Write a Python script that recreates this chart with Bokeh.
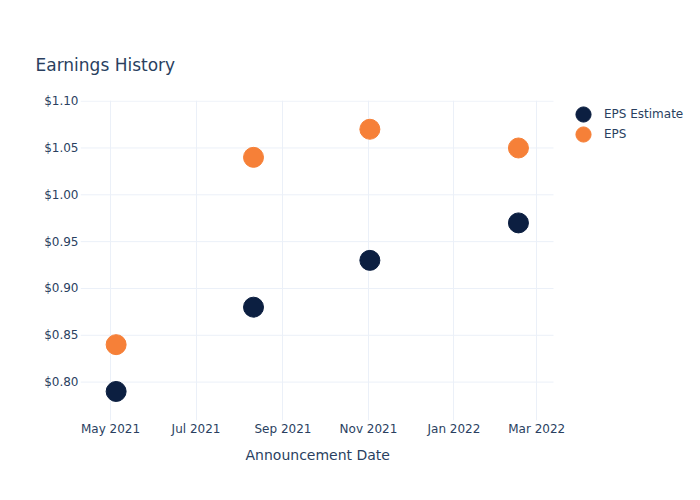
from datetime import datetime
import pandas as pd
from bokeh.plotting import figure
from bokeh.models import (ColumnDataSource, Range1d, FixedTicker, NumeralTickFormatter,
                          DatetimeTickFormatter, Legend, LegendItem, Title)
from bokeh.embed import file_html
from bokeh.resources import INLINE

# ---- data ----
dates = ["2021-05-05", "2021-08-11", "2021-11-02", "2022-02-16"]
eps_estimate = [0.79, 0.88, 0.93, 0.97]
eps_actual = [0.84, 1.04, 1.07, 1.05]
series_names = ["EPS Estimate", "EPS"]
x_tick_dates = ["2021-05-01", "2021-07-01", "2021-09-01", "2021-11-01", "2022-01-01", "2022-03-01"]
y_ticks = [0.80, 0.85, 0.90, 0.95, 1.00, 1.05, 1.10]
x_axis_title = "Announcement Date"
chart_title = "Earnings History"

TEXT = "#2a3f5f"
GRID = "#ebf0f8"
NAVY = "#0c1f41"
ORANGE = "#f68038"
FONT = "DejaVu Sans"

# visible plot area spans 473 px (x 80..553); the frame extends to the right edge (700)
x_start = datetime(2021, 4, 9, 14)
x_vis_end = datetime(2022, 3, 13)
vis_px, extra_px = 473.0, 147.0
x_end = x_vis_end + (x_vis_end - x_start) * (extra_px / vis_px)

src = ColumnDataSource(dict(date=pd.to_datetime(dates), est=eps_estimate, eps=eps_actual))

p = figure(width=700, height=500, output_backend="svg", toolbar_location=None,
           title=None, x_axis_type="datetime",
           x_range=Range1d(x_start, x_end),
           y_range=Range1d(0.759, 1.1007),
           min_border_left=80, min_border_right=0, min_border_top=100, min_border_bottom=80)
p.outline_line_color = None
p.background_fill_color = "white"
p.border_fill_color = "white"

# horizontal grid lines, limited to the visible plot area
p.segment(x0=[x_start] * len(y_ticks), x1=[x_vis_end] * len(y_ticks), y0=y_ticks, y1=y_ticks,
          line_color=GRID, line_width=1, level="underlay")

r_est = p.scatter("date", "est", source=src, size=20, color=NAVY, line_color=NAVY)
r_eps = p.scatter("date", "eps", source=src, size=20, color=ORANGE, line_color=ORANGE)

# axes
p.xaxis.ticker = FixedTicker(ticks=[pd.Timestamp(d).value / 1e6 for d in x_tick_dates])
fmt = "%b %Y"
p.xaxis.formatter = DatetimeTickFormatter(days=fmt, months=fmt, years=fmt, hours=fmt)
p.yaxis.ticker = FixedTicker(ticks=y_ticks)
p.yaxis.formatter = NumeralTickFormatter(format="$0.00")
for ax in (p.xaxis, p.yaxis):
    ax.axis_line_color = None
    ax.major_tick_line_color = None
    ax.minor_tick_line_color = None
    ax.major_tick_out = 0
    ax.major_tick_in = 0
    ax.major_label_text_font = FONT
    ax.major_label_text_font_size = "12px"
    ax.major_label_text_color = TEXT
p.yaxis.major_label_standoff = 2
p.xaxis.major_label_standoff = 1

p.xgrid.grid_line_color = GRID
p.xgrid.ticker = p.xaxis.ticker
p.ygrid.grid_line_color = None

# x-axis title, centred under the visible plot area
xt = Title(text=x_axis_title, align="left", offset=165, standoff=12,
           text_font=FONT, text_font_size="14px", text_font_style="normal", text_color=TEXT)
p.add_layout(xt, "below")

# legend: one legend box per entry
legend_common = dict(padding=0, margin=0, glyph_width=38, glyph_height=38, label_standoff=2,
                     label_text_font=FONT, label_text_font_size="12px", label_text_color=TEXT,
                     border_line_color=None, background_fill_alpha=0)
leg1 = Legend(items=[LegendItem(label=series_names[0], renderers=[r_est])],
              location=(484, 287.5), **legend_common)
leg2 = Legend(items=[LegendItem(label=series_names[1], renderers=[r_eps])],
              location=(484, 267), **legend_common)
p.add_layout(leg1, "center")
p.add_layout(leg2, "center")

# title, with an invisible spacer added after it
main_title = Title(text=chart_title, align="left", offset=-45, standoff=51,
                   text_font=FONT, text_font_size="17px", text_font_style="normal",
                   text_color=TEXT)
p.add_layout(main_title, "above")
spacer = Title(text=" ", text_font_size="1px", standoff=20, text_alpha=0)
p.add_layout(spacer, "above")

open("out.html", "w").write(file_html(p, INLINE))
